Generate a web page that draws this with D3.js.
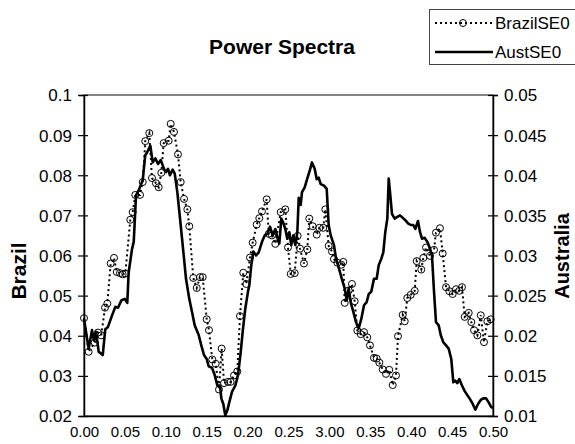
<!DOCTYPE html>
<html>
<head>
<meta charset="utf-8">
<script src="https://cdn.jsdelivr.net/npm/d3@7"></script>
<style>
  body { margin: 0; background: #fff; }
  svg text { font-family: "Liberation Sans", Arial, sans-serif; fill: #000; }
</style>
</head>
<body>
<svg id="chart" width="575" height="444"></svg>
<script>
// values
var xTickValues = [0, 0.05, 0.10, 0.15, 0.20, 0.25, 0.30, 0.35, 0.40, 0.45, 0.50];
var xTickLabels = ["0.00", "0.05", "0.10", "0.15", "0.20", "0.25", "3.00", "0.35", "0.40", "0.45", "0.50"];
var brazilTicks = [0.02, 0.03, 0.04, 0.05, 0.06, 0.07, 0.08, 0.09, 0.1];
var australiaTicks = [0.01, 0.015, 0.02, 0.025, 0.03, 0.035, 0.04, 0.045, 0.05];

var brazilFreq = [
  0, 0.0057, 0.0131, 0.0171, 0.0211, 0.0257, 0.0285, 0.0326, 0.0367, 0.04,
  0.044, 0.0473, 0.0505, 0.0566, 0.0595, 0.0627, 0.0685, 0.0718, 0.0749, 0.0798,
  0.0831, 0.088, 0.0913, 0.0945, 0.0974, 0.1035, 0.106, 0.11, 0.1149, 0.1182,
  0.1223, 0.1263, 0.1287, 0.1336, 0.1378, 0.1418, 0.1451, 0.15, 0.1528, 0.1568,
  0.161, 0.165, 0.1683, 0.1712, 0.176, 0.1793, 0.1834, 0.1874, 0.1907, 0.1947,
  0.1984, 0.2029, 0.2062, 0.2111, 0.2143, 0.2176, 0.2233, 0.2258, 0.2298, 0.2339,
  0.2405, 0.2461, 0.2494, 0.2527, 0.2576, 0.2612, 0.2641, 0.2689, 0.273, 0.2754,
  0.2796, 0.2845, 0.2877, 0.2925, 0.295, 0.2991, 0.3032, 0.3056, 0.3097, 0.3146,
  0.317, 0.3187, 0.3236, 0.3276, 0.3309, 0.3341, 0.3383, 0.3423, 0.3463, 0.3496,
  0.3545, 0.3578, 0.361, 0.3652, 0.3692, 0.3732, 0.3774, 0.3814, 0.3839, 0.3896,
  0.3921, 0.3952, 0.3994, 0.4043, 0.4067, 0.4123, 0.4148, 0.4181, 0.423, 0.4279,
  0.4303, 0.4352, 0.4385, 0.4426, 0.4466, 0.4507, 0.4548, 0.4588, 0.4621, 0.4654,
  0.4703, 0.4735, 0.4768, 0.4809, 0.485, 0.489, 0.4931, 0.4972
];
var brazilSE0 = [
  0.0444, 0.0360, 0.0383, 0.0408, 0.0401, 0.0470, 0.0480, 0.0580, 0.0594, 0.0559,
  0.0556, 0.0553, 0.0555, 0.0689, 0.0708, 0.0751, 0.0751, 0.0783, 0.0885, 0.0905,
  0.0793, 0.0780, 0.0770, 0.0806, 0.0880, 0.0886, 0.0928, 0.0908, 0.0852, 0.0783,
  0.0741, 0.0715, 0.0673, 0.0544, 0.0519, 0.0546, 0.0546, 0.0441, 0.0414, 0.0341,
  0.0330, 0.0266, 0.0368, 0.0282, 0.0285, 0.0285, 0.0301, 0.0311, 0.0449, 0.0557,
  0.0529, 0.0595, 0.0632, 0.0677, 0.0693, 0.0710, 0.0740, 0.0654, 0.0650, 0.0629,
  0.0708, 0.0715, 0.0620, 0.0554, 0.0556, 0.0649, 0.0617, 0.0580, 0.0615, 0.0692,
  0.0673, 0.0652, 0.0669, 0.0669, 0.0715, 0.0624, 0.0610, 0.0591, 0.0582, 0.0577,
  0.0584, 0.0482, 0.0513, 0.0529, 0.0486, 0.0413, 0.0404, 0.0409, 0.0396, 0.0376,
  0.0345, 0.0343, 0.0333, 0.0316, 0.0305, 0.0315, 0.0277, 0.0301, 0.0399, 0.0452,
  0.0436, 0.0494, 0.0502, 0.0512, 0.0586, 0.0565, 0.0594, 0.0620, 0.0599, 0.0614,
  0.0657, 0.0668, 0.0605, 0.0521, 0.0511, 0.0504, 0.0516, 0.0512, 0.0521, 0.0447,
  0.0457, 0.0434, 0.0414, 0.0401, 0.0451, 0.0384, 0.0436, 0.0441
];

var austFreq = [
  0, 0.0057, 0.0098, 0.0122, 0.0147, 0.018, 0.0229, 0.026, 0.0293, 0.0342,
  0.0383, 0.0416, 0.0456, 0.0498, 0.0529, 0.0546, 0.0587, 0.0608, 0.0636, 0.0676,
  0.0718, 0.0749, 0.0774, 0.0811, 0.084, 0.0872, 0.0905, 0.0938, 0.0978, 0.1002,
  0.1027, 0.1051, 0.1084, 0.1109, 0.1141, 0.1182, 0.1223, 0.1247, 0.1287, 0.132,
  0.1353, 0.1402, 0.1434, 0.1467, 0.15, 0.1524, 0.1565, 0.1598, 0.163, 0.1663,
  0.1679, 0.1703, 0.1727, 0.1752, 0.1776, 0.1809, 0.185, 0.1883, 0.1916, 0.194,
  0.1972, 0.2005, 0.2021, 0.2045, 0.207, 0.2103, 0.2136, 0.2176, 0.2209, 0.2241,
  0.2274, 0.2307, 0.2339, 0.2372, 0.2388, 0.2412, 0.2436, 0.2461, 0.2485, 0.251,
  0.2534, 0.2559, 0.2583, 0.2608, 0.2625, 0.2649, 0.2665, 0.2698, 0.273, 0.2763,
  0.2787, 0.282, 0.2845, 0.2869, 0.2894, 0.2934, 0.2967, 0.2991, 0.3016, 0.3056,
  0.3081, 0.3105, 0.313, 0.3163, 0.3187, 0.3212, 0.3236, 0.326, 0.3292, 0.3325,
  0.3358, 0.339, 0.3423, 0.3456, 0.3481, 0.3512, 0.3545, 0.3578, 0.3603, 0.3635,
  0.3659, 0.3683, 0.3708, 0.3725, 0.3741, 0.3765, 0.3798, 0.383, 0.3863, 0.3896,
  0.3928, 0.3961, 0.3994, 0.4026, 0.405, 0.4083, 0.4108, 0.4132, 0.4165, 0.4197,
  0.4221, 0.4254, 0.4279, 0.4303, 0.4336, 0.4361, 0.4392, 0.4426, 0.4458, 0.449,
  0.4515, 0.4539, 0.4564, 0.4588, 0.4621, 0.4654, 0.4686, 0.4719, 0.4752, 0.4784,
  0.4817, 0.485, 0.4881, 0.4914, 0.4947, 0.4979, 0.5
];
var austSE0 = [
  0.0221, 0.0184, 0.0207, 0.0194, 0.0205, 0.0180, 0.0176, 0.0208, 0.0211, 0.0225,
  0.0236, 0.0235, 0.0244, 0.0246, 0.0241, 0.0279, 0.0308, 0.0317, 0.0375, 0.0383,
  0.0394, 0.0425, 0.0429, 0.0437, 0.0416, 0.0421, 0.0414, 0.0419, 0.0408, 0.0404,
  0.0408, 0.0400, 0.0407, 0.0402, 0.0379, 0.0338, 0.0296, 0.0271, 0.0246, 0.0230,
  0.0213, 0.0201, 0.0188, 0.0176, 0.0171, 0.0162, 0.0160, 0.0151, 0.0138, 0.0138,
  0.0122, 0.0115, 0.0101, 0.0107, 0.0117, 0.0130, 0.0138, 0.0151, 0.0180, 0.0205,
  0.0234, 0.0255, 0.0263, 0.0288, 0.0305, 0.0300, 0.0304, 0.0317, 0.0325, 0.0327,
  0.0336, 0.0325, 0.0333, 0.0319, 0.0315, 0.0346, 0.0341, 0.0333, 0.0321, 0.0329,
  0.0313, 0.0325, 0.0313, 0.0329, 0.0372, 0.0363, 0.0379, 0.0385, 0.0396, 0.0407,
  0.0416, 0.0408, 0.0395, 0.0397, 0.0389, 0.0387, 0.0383, 0.0338, 0.0325, 0.0313,
  0.0296, 0.0288, 0.0279, 0.0267, 0.0259, 0.0244, 0.0259, 0.0242, 0.0230, 0.0217,
  0.0209, 0.0221, 0.0238, 0.0242, 0.0252, 0.0255, 0.0271, 0.0271, 0.0288, 0.0296,
  0.0304, 0.0329, 0.0346, 0.0396, 0.0379, 0.0352, 0.0346, 0.0348, 0.0350, 0.0347,
  0.0344, 0.0340, 0.0338, 0.0338, 0.0333, 0.0343, 0.0329, 0.0321, 0.0322, 0.0317,
  0.0311, 0.0300, 0.0255, 0.0217, 0.0213, 0.0201, 0.0192, 0.0188, 0.0184, 0.0171,
  0.0142, 0.0144, 0.0141, 0.0146, 0.0138, 0.0131, 0.0126, 0.0121, 0.0115, 0.0108,
  0.0115, 0.0120, 0.0122, 0.0122, 0.0117, 0.0111, 0.0110
];

var width = 575, height = 444;
var plot = {left: 84, right: 493, top: 95, bottom: 416};

var svg = d3.select("#chart");

var x = d3.scaleLinear().domain([0, 0.5]).range([plot.left, plot.right]);
var yB = d3.scaleLinear().domain([0.02, 0.1]).range([plot.bottom, plot.top]);
var yA = d3.scaleLinear().domain([0.01, 0.05]).range([plot.bottom, plot.top]);

var num = function(d) { return String(+d.toFixed(3)); };

// plot frame
svg.append("rect")
  .attr("x", plot.left).attr("y", plot.top)
  .attr("width", plot.right - plot.left).attr("height", plot.bottom - plot.top)
  .attr("fill", "none").attr("stroke", "#333").attr("stroke-width", 1.2);

// left axis (Brazil)
var gL = svg.append("g")
  .attr("transform", "translate(" + plot.left + ",0)")
  .call(d3.axisLeft(yB).tickValues(brazilTicks).tickFormat(num)
    .tickSize(5).tickPadding(7));
gL.select(".domain").attr("stroke", "#000").attr("stroke-width", 1.5);
gL.selectAll(".tick line").attr("x1", 4).attr("x2", -6).attr("stroke", "#000").attr("stroke-width", 1.2);
gL.selectAll(".tick text").style("font-size", "17px").attr("dy", "0.35em");

// right axis (Australia)
var gR = svg.append("g")
  .attr("transform", "translate(" + plot.right + ",0)")
  .call(d3.axisRight(yA).tickValues(australiaTicks).tickFormat(num)
    .tickSize(5).tickPadding(6));
gR.select(".domain").attr("stroke", "#000").attr("stroke-width", 1.5);
gR.selectAll(".tick line").attr("x1", -5).attr("x2", 5).attr("stroke", "#000").attr("stroke-width", 1.2);
gR.selectAll(".tick text").style("font-size", "17px").attr("dy", "0.35em");

// bottom axis, labels only
var gB = svg.append("g")
  .attr("transform", "translate(0," + plot.bottom + ")")
  .call(d3.axisBottom(x).tickValues(xTickValues)
    .tickFormat(function(d) { return xTickLabels[xTickValues.indexOf(d)]; })
    .tickSize(0).tickPadding(10));
gB.select(".domain").attr("stroke", "#000").attr("stroke-width", 1.5);
gB.selectAll(".tick text").style("font-size", "15px");

// Australia line
var lineA = d3.line()
  .x(function(d, i) { return x(austFreq[i]); })
  .y(function(d) { return yA(d); });
svg.append("path")
  .datum(austSE0)
  .attr("d", lineA)
  .attr("fill", "none").attr("stroke", "#000")
  .attr("stroke-width", 2.6).attr("stroke-linejoin", "round");

// Brazil dotted line with circles
var lineB = d3.line()
  .x(function(d, i) { return x(brazilFreq[i]); })
  .y(function(d) { return yB(d); });
svg.append("path")
  .datum(brazilSE0)
  .attr("d", lineB)
  .attr("fill", "none").attr("stroke", "#000")
  .attr("stroke-width", 2).attr("stroke-dasharray", "2,3");
svg.append("g").selectAll("circle")
  .data(brazilSE0)
  .join("circle")
  .attr("cx", function(d, i) { return x(brazilFreq[i]); })
  .attr("cy", function(d) { return yB(d); })
  .attr("r", 3.5)
  .attr("fill", "none").attr("stroke", "#000").attr("stroke-width", 1);

// title and axis titles
svg.append("text")
  .attr("x", 282).attr("y", 54)
  .attr("text-anchor", "middle")
  .style("font-size", "21px").style("font-weight", "bold")
  .text("Power Spectra");

svg.append("text")
  .attr("transform", "translate(26,271) rotate(-90)")
  .attr("text-anchor", "middle")
  .style("font-size", "21px").style("font-weight", "bold")
  .text("Brazil");

svg.append("text")
  .attr("transform", "translate(569,256) rotate(-90)")
  .attr("text-anchor", "middle")
  .style("font-size", "20px").style("font-weight", "bold")
  .text("Australia");

// legend
var leg = svg.append("g");
leg.append("rect")
  .attr("x", 429.5).attr("y", 9.5).attr("width", 150).attr("height", 55)
  .attr("fill", "#fff").attr("stroke", "#444").attr("stroke-width", 1);
leg.append("line")
  .attr("x1", 435).attr("x2", 492).attr("y1", 23).attr("y2", 23)
  .attr("stroke", "#000").attr("stroke-width", 2).attr("stroke-dasharray", "2,3");
leg.append("circle")
  .attr("cx", 463).attr("cy", 23).attr("r", 3.5)
  .attr("fill", "none").attr("stroke", "#000");
leg.append("text")
  .attr("x", 495).attr("y", 23).attr("dy", "0.35em")
  .style("font-size", "17px").text("BrazilSE0");
leg.append("line")
  .attr("x1", 435).attr("x2", 493).attr("y1", 52).attr("y2", 52)
  .attr("stroke", "#000").attr("stroke-width", 2.6);
leg.append("text")
  .attr("x", 495).attr("y", 52).attr("dy", "0.35em")
  .style("font-size", "17px").text("AustSE0");
</script>
</body>
</html>
